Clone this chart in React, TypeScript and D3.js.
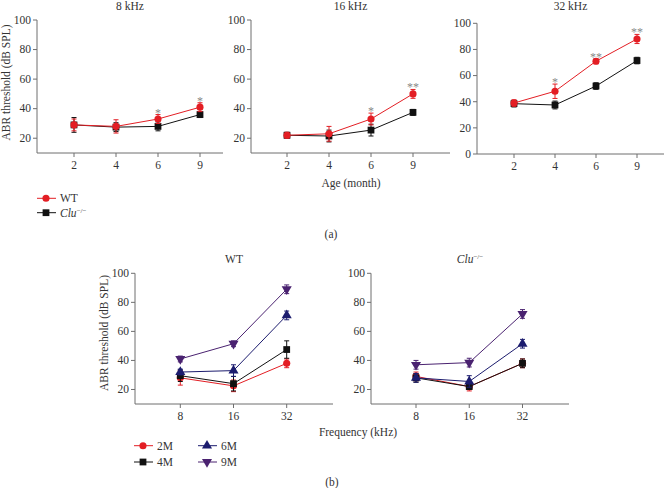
import React from "react";
import * as d3 from "d3";

const ageCats = ["2", "4", "6", "9"];
const freqCats = ["8", "16", "32"];

const wt8 = [29, 28, 33, 41];
const wt8Err = [4, 4.5, 3, 3];
const clu8 = [29, 27.5, 28, 36];
const clu8Err = [5, 3, 3, 2];
const stars8 = ["", "", "*", "*"];

const wt16 = [22, 23, 33, 50];
const wt16Err = [2, 5, 4, 3];
const clu16 = [22, 21.5, 25.5, 37.5];
const clu16Err = [2, 4, 4, 2];
const stars16 = ["", "", "*", "**"];

const wt32 = [39, 48, 71, 88];
const wt32Err = [2.5, 5.5, 2, 3.5];
const clu32 = [38.5, 37.5, 52, 71.5];
const clu32Err = [2.5, 3, 2.5, 2.5];
const stars32 = ["", "*", "**", "**"];

const m2WT = [28, 22.5, 38];
const m2WTErr = [5, 4, 3];
const m4WT = [29.5, 24, 47.5];
const m4WTErr = [4, 5, 6];
const m6WT = [32, 33, 71];
const m6WTErr = [2, 4, 3];
const m9WT = [41, 51.5, 89];
const m9WTErr = [2, 2, 3];

const m2Clu = [29, 22, 38];
const m2CluErr = [3, 3, 3];
const m4Clu = [28, 22, 38];
const m4CluErr = [3, 2, 3];
const m6Clu = [28, 25.5, 51.5];
const m6CluErr = [3, 4, 3];
const m9Clu = [37, 38.5, 72];
const m9CluErr = [3, 3, 3];

const RED = "#e31e24";
const BLACK = "#111111";
const NAVY = "#1c1c6e";
const PURPLE = "#4a2270";
const AXIS = "#6e6e6e";
const TXT = "#333333";
const FONT = "Liberation Serif, 'Times New Roman', Times, serif";

type Shape = "circle" | "square" | "up" | "down";

function symbolPath(shape: Shape): string {
  const gen = d3.symbol();
  if (shape === "circle") return gen.type(d3.symbolCircle).size(40)() as string;
  if (shape === "square") return gen.type(d3.symbolSquare).size(46)() as string;
  return gen.type(d3.symbolTriangle).size(44)() as string;
}

function Marker({ x, y, shape, color }: { x: number; y: number; shape: Shape; color: string }) {
  const rot = shape === "down" ? " rotate(180)" : "";
  return <path d={symbolPath(shape)} transform={`translate(${x},${y})${rot}`} fill={color} />;
}

type Series = { vals: number[]; errs: number[]; color: string; shape: Shape; stars?: string[] };

type PanelProps = {
  axisX: number;
  axisEnd: number;
  firstTick: number;
  lastTick: number;
  yTop: number;
  yBottom: number;
  domain: [number, number];
  cats: string[];
  title: string | React.ReactNode;
  titleY: number;
  series: Series[];
};

const tStyle: React.CSSProperties = { fontFamily: FONT };

function Panel(p: PanelProps) {
  const x = d3.scalePoint<string>().domain(p.cats).range([p.firstTick, p.lastTick]);
  const y = d3.scaleLinear().domain(p.domain).range([p.yBottom, p.yTop]);
  const yTicks = d3.range(p.domain[0] === 0 ? 0 : 20, 101, 20);
  const line = d3
    .line<number>()
    .x((_, i) => x(p.cats[i]) as number)
    .y((d) => y(d));
  return (
    <g>
      <text x={(p.axisX + p.axisEnd) / 2} y={p.titleY} textAnchor="middle" fontSize={11.5} fill={TXT} style={tStyle}>
        {p.title}
      </text>
      <line x1={p.axisX} x2={p.axisX} y1={p.yTop} y2={p.yBottom} stroke={AXIS} strokeWidth={1} />
      <line x1={p.axisX} x2={p.axisEnd} y1={p.yBottom} y2={p.yBottom} stroke={AXIS} strokeWidth={1} />
      {yTicks.map((t) => (
        <g key={t}>
          <line x1={p.axisX - 4} x2={p.axisX} y1={y(t)} y2={y(t)} stroke={AXIS} />
          <text x={p.axisX - 6} y={y(t) + 3.8} textAnchor="end" fontSize={11.5} fill={TXT} style={tStyle}>
            {t}
          </text>
        </g>
      ))}
      {p.cats.map((c) => (
        <g key={c}>
          <line x1={x(c)} x2={x(c)} y1={p.yBottom} y2={p.yBottom + 4} stroke={AXIS} />
          <text x={x(c)} y={p.yBottom + 16} textAnchor="middle" fontSize={11.5} fill={TXT} style={tStyle}>
            {c}
          </text>
        </g>
      ))}
      {p.series.map((s, si) => (
        <g key={si}>
          <path d={line(s.vals) as string} fill="none" stroke={s.color} strokeWidth={1} />
          {s.vals.map((v, i) => {
            const cx = x(p.cats[i]) as number;
            const top = y(v + s.errs[i]);
            const bot = y(v - s.errs[i]);
            return (
              <g key={i}>
                <line x1={cx} x2={cx} y1={top} y2={bot} stroke={s.color} strokeWidth={1} />
                <line x1={cx - 2.5} x2={cx + 2.5} y1={top} y2={top} stroke={s.color} strokeWidth={1} />
                <line x1={cx - 2.5} x2={cx + 2.5} y1={bot} y2={bot} stroke={s.color} strokeWidth={1} />
                <Marker x={cx} y={y(v)} shape={s.shape} color={s.color} />
                {s.stars && s.stars[i] ? (
                  <text x={cx} y={top + 2} textAnchor="middle" fontSize={12} fill="#888888" style={tStyle}>
                    {s.stars[i]}
                  </text>
                ) : null}
              </g>
            );
          })}
        </g>
      ))}
    </g>
  );
}

function LegendItem({ x, y, color, shape, label }: { x: number; y: number; color: string; shape: Shape; label: React.ReactNode }) {
  return (
    <g>
      <line x1={x} x2={x + 19} y1={y} y2={y} stroke={color} strokeWidth={1} />
      <Marker x={x + 9} y={y} shape={shape} color={color} />
      <text x={x + 23} y={y + 3.8} fontSize={11.5} fill={TXT} style={tStyle}>
        {label}
      </text>
    </g>
  );
}

const CluLabel = () => (
  <>
    <tspan fontStyle="italic">Clu</tspan>
    <tspan fontSize={7} dy={-4}>−/−</tspan>
  </>
);

export default function App() {
  return (
    <svg
      width={667}
      height={488}
      style={{ position: "absolute", left: 0, top: 0, background: "#fff", fontFamily: FONT }}
    >
      <Panel
        axisX={37}
        axisEnd={223}
        firstTick={74}
        lastTick={200}
        yTop={20}
        yBottom={153}
        domain={[10, 100]}
        cats={ageCats}
        title="8 kHz"
        titleY={9.5}
        series={[
          { vals: clu8, errs: clu8Err, color: BLACK, shape: "square" },
          { vals: wt8, errs: wt8Err, color: RED, shape: "circle", stars: stars8 },
        ]}
      />
      <Panel
        axisX={251}
        axisEnd={450}
        firstTick={287}
        lastTick={413}
        yTop={20}
        yBottom={153}
        domain={[10, 100]}
        cats={ageCats}
        title="16 kHz"
        titleY={9.5}
        series={[
          { vals: clu16, errs: clu16Err, color: BLACK, shape: "square" },
          { vals: wt16, errs: wt16Err, color: RED, shape: "circle", stars: stars16 },
        ]}
      />
      <Panel
        axisX={477}
        axisEnd={664}
        firstTick={514}
        lastTick={637}
        yTop={23.3}
        yBottom={154}
        domain={[0, 100]}
        cats={ageCats}
        title="32 kHz"
        titleY={9.5}
        series={[
          { vals: clu32, errs: clu32Err, color: BLACK, shape: "square" },
          { vals: wt32, errs: wt32Err, color: RED, shape: "circle", stars: stars32 },
        ]}
      />
      <text transform="translate(10,82.5) rotate(-90)" textAnchor="middle" fontSize={11.5} fill={TXT} style={tStyle}>
        ABR threshold (dB SPL)
      </text>
      <text x={351} y={186.5} textAnchor="middle" fontSize={11.5} fill={TXT} style={tStyle}>
        Age (month)
      </text>
      <LegendItem x={37} y={198.3} color={RED} shape="circle" label="WT" />
      <LegendItem x={37} y={212.7} color={BLACK} shape="square" label={<CluLabel />} />
      <text x={331} y={238} textAnchor="middle" fontSize={11.5} fill={TXT} style={tStyle}>
        (a)
      </text>

      <Panel
        axisX={135}
        axisEnd={333}
        firstTick={180.3}
        lastTick={286.7}
        yTop={273.3}
        yBottom={404}
        domain={[10, 100]}
        cats={freqCats}
        title="WT"
        titleY={263}
        series={[
          { vals: m2WT, errs: m2WTErr, color: RED, shape: "circle" },
          { vals: m4WT, errs: m4WTErr, color: BLACK, shape: "square" },
          { vals: m6WT, errs: m6WTErr, color: NAVY, shape: "up" },
          { vals: m9WT, errs: m9WTErr, color: PURPLE, shape: "down" },
        ]}
      />
      <Panel
        axisX={371}
        axisEnd={569}
        firstTick={416}
        lastTick={522.5}
        yTop={273.3}
        yBottom={404}
        domain={[10, 100]}
        cats={freqCats}
        title={<CluLabel />}
        titleY={263}
        series={[
          { vals: m2Clu, errs: m2CluErr, color: RED, shape: "circle" },
          { vals: m4Clu, errs: m4CluErr, color: BLACK, shape: "square" },
          { vals: m6Clu, errs: m6CluErr, color: NAVY, shape: "up" },
          { vals: m9Clu, errs: m9CluErr, color: PURPLE, shape: "down" },
        ]}
      />
      <text transform="translate(107.5,333) rotate(-90)" textAnchor="middle" fontSize={11.5} fill={TXT} style={tStyle}>
        ABR threshold (dB SPL)
      </text>
      <text x={358} y={435.5} textAnchor="middle" fontSize={11.5} fill={TXT} style={tStyle}>
        Frequency (kHz)
      </text>
      <LegendItem x={134} y={445.7} color={RED} shape="circle" label="2M" />
      <LegendItem x={134} y={462} color={BLACK} shape="square" label="4M" />
      <LegendItem x={198} y={445.7} color={NAVY} shape="up" label="6M" />
      <LegendItem x={198} y={462} color={PURPLE} shape="down" label="9M" />
      <text x={332} y={486} textAnchor="middle" fontSize={11.5} fill={TXT} style={tStyle}>
        (b)
      </text>
    </svg>
  );
}
